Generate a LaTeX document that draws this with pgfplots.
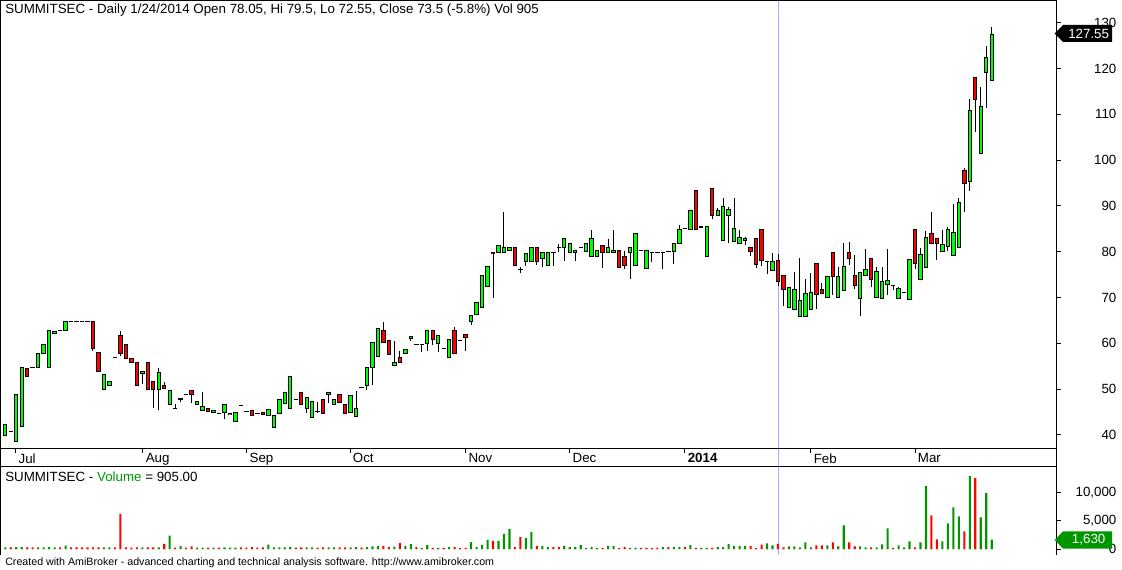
\documentclass[border=0pt]{standalone}
\usepackage{pgfplots}
\pgfplotsset{compat=1.18}
\usepackage{pgfplotstable}
\usepackage{fontspec}
\setmainfont{Liberation Sans}
\definecolor{cgreen}{RGB}{0,255,0}
\definecolor{cred}{RGB}{255,0,0}
\definecolor{vgreen}{RGB}{0,150,0}
\definecolor{curblue}{RGB}{170,170,255}

% daily OHLC, i = trading-day index
\pgfplotstableread{
i o h l c
0 39.75 42.3 39.75 42.3
1 40.7 40.7 40.7 40.7
2 38.6 48.85 38.6 48.85
3 41.87 54.75 41.87 54.75
4 54.53 54.53 52.78 52.78
5 54.75 54.75 54.75 54.75
6 54.75 57.8 54.75 57.8
7 57.8 59.77 57.8 59.77
8 54.75 62.83 54.75 62.83
9 62.03 62.68 62.03 62.68
10 62.9 62.9 62.9 62.9
11 62.83 64.79 62.83 64.79
12 64.79 64.79 64.79 64.79
13 64.79 64.79 64.79 64.79
14 64.79 64.79 64.79 64.79
15 64.79 64.79 64.79 64.79
16 64.79 64.79 58.4 58.9
17 57.95 58.17 53.88 53.88
18 49.95 53.22 49.95 53.22
19 50.82 51.69 50.82 51.69
20 56.93 56.93 56.93 56.93
21 61.81 62.68 57.3 57.8
22 59.77 59.77 56.57 56.57
23 56.71 56.71 55.84 55.84
24 55.84 55.84 50.82 50.82
25 53.29 53.88 51.18 53.88
26 55.84 55.84 49.8 49.8
27 51.69 51.69 45.94 49.8
28 49.8 54.53 45.36 53.66
29 50.82 51.47 50.09 50.09
30 46.67 49.8 46.67 49.8
31 45.8 46.67 45.8 45.8
32 47.69 47.98 47.1 47.98
33 48.78 48.78 48.78 48.78
34 49.8 49.8 47.03 48.71
35 46.67 47.4 46.45 47.4
36 45.36 49.36 45.36 46.3
37 45.8 45.8 45.14 45.14
38 44.78 45.36 44.78 45.36
39 44.78 44.78 44.78 44.78
40 44.92 46.67 43.4 46.67
41 44.34 44.78 44.34 44.78
42 42.96 44.92 42.96 44.92
43 46.45 46.45 46.45 46.45
44 45.14 45.14 45.14 45.14
45 45.36 45.36 44.27 44.27
46 44.8 44.8 44.8 44.8
47 44.85 44.85 44.34 44.34
48 44.13 45.58 44.13 45.58
49 41.65 44.34 41.65 44.34
50 44.71 47.76 44.71 47.76
51 46.89 49.29 46.89 49.29
52 45.8 52.79 45.8 52.79
53 47.76 47.76 47.76 47.76
54 49.29 49.29 46.67 46.67
55 45.8 48.13 44.85 48.13
56 43.83 47.25 43.83 47.25
57 45.22 47.25 44.85 45.22
58 47.76 47.76 44.71 44.71
59 48.71 49.29 46.89 49.29
60 46.67 47.76 46.67 47.76
61 48.86 48.86 47.11 47.11
62 46.67 46.67 44.71 44.71
63 44.92 48.71 44.92 48.71
64 43.98 49.58 43.98 45.8
65 50.38 50.38 50.38 50.38
66 50.75 54.75 49.8 54.75
67 54.75 60.21 50.9 60.21
68 57.08 63.27 57.08 63.27
69 62.76 64.58 60.21 60.21
70 60.65 60.65 57.59 57.59
71 55.04 60.5 55.04 55.92
72 56.86 58.32 55.84 55.84
73 57.81 58.76 57.81 58.76
74 61.01 61.52 60.6 61.52
75 59.85 59.85 59.85 59.85
76 59.85 59.85 58.03 59.85
77 59.85 62.9 58.39 62.9
78 62.9 62.9 59.63 60.86
79 60.0 61.81 58.03 61.81
80 58.83 58.83 58.83 58.83
81 56.79 60.86 56.79 60.86
82 62.9 63.48 57.81 57.81
83 60.72 60.72 60.72 60.72
84 61.95 61.95 58.39 61.3
85 64.8 66.1 64.07 66.1
86 66.32 68.94 66.32 68.94
87 67.85 74.84 67.85 74.84
88 72.36 76.8 72.36 76.8
89 79.86 79.86 69.96 79.5
90 79.86 81.46 79.86 81.46
91 79.86 88.6 79.86 80.95
92 80.3 80.95 80.3 80.95
93 80.95 80.95 77.02 77.02
94 76.15 76.7 75.4 76.15
95 77.9 79.64 76.9 79.64
96 77.9 80.95 77.9 80.95
97 80.95 80.95 77.2 77.9
98 78.55 79.86 76.6 79.86
99 76.88 79.86 76.88 79.86
100 79.86 79.86 76.88 79.86
101 80.95 81.6 80.0 80.95
102 80.95 82.92 77.97 82.92
103 79.86 81.83 79.86 81.83
104 79.86 80.3 77.97 80.3
105 80.95 80.95 80.95 80.95
106 80.08 81.83 80.08 81.83
107 78.92 84.74 78.92 82.92
108 78.92 80.3 78.92 80.3
109 81.39 81.39 76.5 79.86
110 79.86 82.7 79.86 80.95
111 79.86 84.74 79.86 80.3
112 80.3 80.3 76.58 76.58
113 78.99 80.15 76.15 77.02
114 79.86 80.95 74.11 80.95
115 76.88 84.0 76.88 84.0
116 80.3 80.3 80.3 80.3
117 76.37 80.3 76.37 80.3
118 79.86 79.86 77.68 79.86
119 79.86 79.86 79.86 79.86
120 79.86 79.86 76.15 79.86
121 80.1 80.1 80.1 80.1
122 80.08 81.83 77.24 81.83
123 81.83 85.83 81.83 84.88
124 85.0 85.0 85.0 85.0
125 84.88 89.03 84.88 89.03
126 93.4 93.4 84.88 84.88
127 85.3 85.5 85.3 85.5
128 78.99 85.54 78.99 85.54
129 93.83 93.83 87.07 87.94
130 87.94 89.5 87.94 89.03
131 82.48 91.65 82.48 89.9
132 87.94 89.7 81.97 89.25
133 82.2 91.65 82.2 85.1
134 81.83 84.74 81.83 83.13
135 82.48 83.3 81.39 82.92
136 80.95 80.95 79.13 80.0
137 82.92 82.92 76.37 77.24
138 84.88 84.88 76.88 77.97
139 77.97 77.97 75.06 77.97
140 75.93 79.72 75.93 77.97
141 78.05 79.5 72.55 73.5
142 74.84 74.84 68.2 71.78
143 67.85 72.22 67.85 72.22
144 67.42 75.56 67.42 71.78
145 65.89 78.62 65.89 69.38
146 65.89 74.04 65.89 70.91
147 67.42 75.27 67.42 71.13
148 77.46 77.46 67.5 70.7
149 71.78 73.16 70.91 70.91
150 70.04 74.62 70.04 74.62
151 79.86 79.86 70.55 74.62
152 70.04 76.58 70.04 74.62
153 71.56 81.97 71.56 76.8
154 79.86 82.12 77.1 78.55
155 74.84 79.2 71.93 72.65
156 69.82 75.49 66.03 75.49
157 74.84 80.52 74.84 76.15
158 78.55 78.55 72.36 73.96
159 70.04 76.58 70.04 75.71
160 69.82 76.58 69.82 73.53
161 72.87 80.52 70.55 73.74
162 72.65 72.65 71.56 72.65
163 69.82 72.22 69.82 71.99
164 71.05 71.05 71.05 71.05
165 69.6 78.33 69.6 78.33
166 84.88 84.88 76.15 77.46
167 73.96 80.73 73.96 79.42
168 76.58 84.52 76.58 83.13
169 84.0 88.6 81.83 81.83
170 82.92 82.92 78.11 81.83
171 80.08 84.74 80.08 81.61
172 81.17 85.39 80.08 84.88
173 79.2 90.4 79.2 84.23
174 80.95 91.65 80.95 90.78
175 97.84 98.27 88.6 94.93
176 95.28 113.34 93.32 110.94
177 118.08 118.08 106.2 113.27
178 101.48 115.9 101.48 111.66
179 119.17 124.9 111.3 122.44
180 117.27 129.0 117.27 127.55
}\prices

% daily volume, u = 1 up (green), 0 down (red)
\pgfplotstableread{
i v u
0 300 1
1 300 0
2 350 1
3 350 1
4 300 0
5 300 0
6 300 1
7 300 1
8 350 1
9 300 1
10 300 0
11 600 1
12 300 0
13 300 0
14 300 0
15 300 0
16 300 0
17 300 0
18 300 1
19 300 1
20 300 0
21 6200 0
22 300 0
23 250 0
24 300 0
25 300 1
26 300 0
27 300 0
28 300 1
29 900 0
30 2350 1
31 250 0
32 500 1
33 250 0
34 450 0
35 250 1
36 250 1
37 250 0
38 250 1
39 250 0
40 300 1
41 250 1
42 250 1
43 300 0
44 250 0
45 350 0
46 250 0
47 300 0
48 750 1
49 300 1
50 300 1
51 300 1
52 350 1
53 250 0
54 300 0
55 300 1
56 300 1
57 250 0
58 300 0
59 300 1
60 300 1
61 300 0
62 300 0
63 300 1
64 350 1
65 250 0
66 350 1
67 450 1
68 500 1
69 550 0
70 350 0
71 400 1
72 1060 0
73 530 1
74 880 1
75 350 0
76 180 1
77 700 1
78 180 0
79 180 1
80 180 0
81 350 1
82 350 0
83 180 0
84 180 0
85 1230 1
86 350 1
87 700 1
88 1590 1
89 1410 0
90 1410 1
91 2650 1
92 3530 1
93 350 0
94 2120 0
95 1940 1
96 3000 1
97 530 0
98 530 1
99 350 1
100 350 0
101 350 0
102 530 1
103 350 1
104 350 1
105 700 1
106 180 1
107 350 1
108 180 1
109 180 0
110 530 1
111 530 1
112 180 0
113 350 0
114 180 1
115 180 1
116 180 0
117 180 0
118 180 0
119 180 0
120 350 1
121 350 0
122 350 1
123 350 1
124 350 0
125 700 1
126 180 0
127 180 1
128 180 1
129 180 0
130 350 1
131 350 1
132 880 1
133 530 1
134 530 1
135 530 1
136 530 0
137 180 0
138 765 0
139 1000 1
140 650 1
141 905 0
142 300 0
143 470 1
144 470 1
145 300 1
146 1180 1
147 300 1
148 650 0
149 650 0
150 650 1
151 1180 0
152 470 1
153 4170 1
154 1180 0
155 470 0
156 470 1
157 300 1
158 300 0
159 300 1
160 820 1
161 3650 1
162 180 0
163 650 1
164 300 1
165 1350 1
166 300 0
167 1180 1
168 11050 1
169 5940 0
170 1700 0
171 1350 1
172 4530 1
173 7350 1
174 5760 1
175 3120 0
176 12820 1
177 12470 0
178 5590 1
179 9820 1
180 1630 1
}\vols

\begin{document}
\begin{tikzpicture}
\useasboundingbox (0,0) rectangle (841.5pt,-427.5pt);
% cursor line (selected bar)
\draw[curblue, line width=0.75pt] (583.5pt,0) -- (583.5pt,-416.25pt);

% ---------- price pane ----------
\begin{axis}[
  at={(0pt,-336pt)}, anchor=south west,
  width=792pt, height=336pt, scale only axis,
  xmin=-0.967, xmax=191.73, ymin=37.14, ymax=134.96,
  enlargelimits=false,
  axis line style={draw=none},
  xtick={1.9,25.1,44.05,62.9,84,103,124,147,166},
  xticklabels={Jul,Aug,Sep,Oct,Nov,Dec,\textbf{2014},Feb,Mar},
  ytick={40,50,...,130},
  ytick pos=right, xtick pos=bottom,
  tick align=outside, major tick length=3.5pt,
  tick style={black, line width=0.75pt},
  tick label style={font=\fontsize{10}{12}\selectfont},
  yticklabel style={anchor=east, inner sep=0pt, xshift=42pt},
  xticklabel style={anchor=north west, inner sep=0pt, xshift=2pt, yshift=-0.5pt},
  /pgf/number format/assume math mode=true,
  candle/.style={draw=none, mark=none, forget plot,
    error bars/.cd, y dir=plus, y explicit, error mark=none},
]
% wicks: low to high
\addplot[candle, error bar style={draw=black, line width=0.75pt}]
  table[x=i, y=l, y error plus expr={\thisrow{h}-\thisrow{l}}, y error minus expr={0}] {\prices};
% body outline: min(open,close) to max(open,close)
\addplot[candle, error bar style={draw=black, line width=3.3pt, line cap=butt}]
  table[x=i, y expr={min(\thisrow{o},\thisrow{c})-0.09},
        y error plus expr={abs(\thisrow{c}-\thisrow{o})+0.18}, y error minus expr={0}] {\prices};
% up bodies
\addplot[candle, error bar style={draw=cgreen, line width=1.8pt, line cap=butt}]
  table[x=i, y expr={\thisrow{o}+0.16},
        y error plus expr={(\thisrow{c}>\thisrow{o})*max(\thisrow{c}-\thisrow{o}-0.32,0)}, y error minus expr={0}] {\prices};
% down bodies
\addplot[candle, error bar style={draw=cred, line width=1.8pt, line cap=butt}]
  table[x=i, y expr={\thisrow{c}+0.16},
        y error plus expr={(\thisrow{o}>\thisrow{c})*max(\thisrow{o}-\thisrow{c}-0.32,0)}, y error minus expr={0}] {\prices};
\end{axis}

% ---------- volume pane ----------
\begin{axis}[
  at={(0pt,-416.25pt)}, anchor=south west,
  width=792pt, height=66pt, scale only axis,
  xmin=-0.967, xmax=191.73, ymin=-1056, ymax=14437,
  enlargelimits=false,
  axis line style={draw=none},
  xtick=\empty,
  ytick={0,5000,10000}, ytick pos=right,
  tick align=outside, major tick length=3.5pt,
  tick style={black, line width=0.75pt},
  scaled y ticks=false,
  tick label style={font=\fontsize{10}{12}\selectfont},
  yticklabel style={anchor=east, inner sep=0pt, xshift=42pt},
  /pgf/number format/.cd, 1000 sep={,}, assume math mode=true,
]
\addplot[ybar, bar width=0.38, bar shift=0pt, fill=vgreen, draw=none]
  table[x=i, y expr={\thisrow{v}*\thisrow{u}}] {\vols};
\addplot[ybar, bar width=0.38, bar shift=0pt, fill=cred, draw=none]
  table[x=i, y expr={\thisrow{v}*(1-\thisrow{u})}] {\vols};
\end{axis}

% ---------- frames ----------
\draw[black, line width=0.75pt] (0.375pt,-0.375pt) -- (792pt,-0.375pt);
\draw[black, line width=0.75pt] (0.375pt,0) -- (0.375pt,-416.25pt);
\draw[black, line width=0.75pt] (792pt,0) -- (792pt,-416.25pt);
\draw[black, line width=0.75pt] (0,-336.75pt) -- (792pt,-336.75pt);
\draw[black, line width=0.75pt] (0,-350pt) -- (792pt,-350pt);

% ---------- value flags ----------
\fill[black] (791pt,-25.1pt) -- (797.25pt,-18.75pt) -- (834pt,-18.75pt) -- (834pt,-31.5pt) -- (797.25pt,-31.5pt) -- cycle;
\node[white, font=\fontsize{10}{12}\selectfont, inner sep=0pt] at (816.5pt,-25.1pt) {127.55};
\fill[vgreen] (791pt,-405pt) -- (797.25pt,-398.5pt) -- (834pt,-398.5pt) -- (834pt,-411.5pt) -- (797.25pt,-411.5pt) -- cycle;
\node[white, font=\fontsize{10}{12}\selectfont, inner sep=0pt] at (816.5pt,-405pt) {1,630};

% ---------- texts ----------
\node[anchor=base west, inner sep=0pt, font=\fontsize{10}{12}\selectfont] at (3.75pt,-10.5pt)
  {SUMMITSEC - Daily 1/24/2014 Open 78.05, Hi 79.5, Lo 72.55, Close 73.5 (-5.8\%) Vol 905};
\node[anchor=base west, inner sep=0pt, font=\fontsize{10}{12}\selectfont] at (3.75pt,-361.5pt)
  {SUMMITSEC - {\color{vgreen}Volume} = 905.00};
\node[anchor=base west, inner sep=0pt, font=\fontsize{8}{10}\selectfont] at (3.75pt,-424pt)
  {Created with AmiBroker - advanced charting and technical analysis software. http://www.amibroker.com};
\end{tikzpicture}
\end{document}
